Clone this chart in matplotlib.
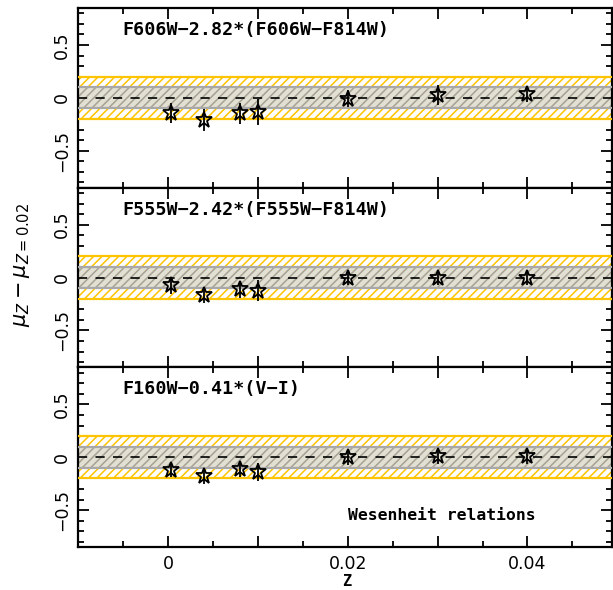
import matplotlib
matplotlib.use("Agg")
import matplotlib.pyplot as plt
from matplotlib.ticker import MultipleLocator, FuncFormatter

# Metallicity grid
Z = [0.0004, 0.004, 0.008, 0.01, 0.02, 0.03, 0.04]

# Distance-modulus offsets relative to Z=0.02, one list per Wesenheit relation
dmu_606 = [-0.14, -0.21, -0.145, -0.135, -0.01, 0.03, 0.04]
err_606 = [0.095, 0.10, 0.10, 0.12, 0.08, 0.095, 0.075]

dmu_555 = [-0.075, -0.165, -0.11, -0.125, 0.0, 0.0, 0.0]
err_555 = [0.076, 0.08, 0.08, 0.10, 0.07, 0.075, 0.07]

dmu_160 = [-0.12, -0.18, -0.115, -0.14, 0.005, 0.012, 0.01]
err_160 = [0.07, 0.07, 0.07, 0.087, 0.076, 0.074, 0.07]

titles = ["F606W\u22122.82*(F606W\u2212F814W)",
          "F555W\u22122.42*(F555W\u2212F814W)",
          "F160W\u22120.41*(V\u2212I)"]
panels = [(dmu_606, err_606), (dmu_555, err_555), (dmu_160, err_160)]

outer_band = 0.2
inner_band = 0.1

plt.rcParams["hatch.linewidth"] = 1.1

W, H = 613, 590
fig = plt.figure(figsize=(W / 100, H / 100), dpi=100)

left, right = 78 / W, 612 / W
top_px, ph = 8, 179.7


def ytick_fmt(v, p):
    if abs(v) < 1e-9:
        return "0"
    return ("%g" % v).replace("-", "\u2212")


def xtick_fmt(v, p):
    if abs(round(v / 0.01)) % 2 != 0:
        return ""
    return "0" if abs(v) < 1e-9 else "%g" % v


axes = []
for i, (title, (vals, errs)) in enumerate(zip(titles, panels)):
    y0 = 1 - (top_px + (i + 1) * ph) / H
    ax = fig.add_axes([left, y0, right - left, ph / H])
    axes.append(ax)

    xmin, xmax = -0.01, 0.0494
    # outer (yellow) hatched band
    ax.fill_between([xmin, xmax], -outer_band, outer_band, facecolor="white",
                    edgecolor="#ffc400", hatch="////", linewidth=0, zorder=1)
    # inner (grey) hatched band
    ax.fill_between([xmin, xmax], -inner_band, inner_band, facecolor="#e2dfd3",
                    edgecolor="#a7a293", hatch="////", linewidth=0, zorder=2)
    for yb in (-outer_band, outer_band):
        ax.axhline(yb, color="#ffc400", lw=1.6, zorder=3)
    for yb in (-inner_band, inner_band):
        ax.axhline(yb, color="#a8a8a8", lw=1.6, zorder=3)
    ax.axhline(0, color="black", lw=1.2, ls=(0, (5.5, 5)), zorder=4)

    ax.errorbar(Z, vals, yerr=errs, fmt="none", ecolor="black", elinewidth=1.3,
                capsize=0, zorder=5)
    ax.plot(Z, vals, ls="none", marker="*", markersize=12, mfc="none",
            mec="black", mew=1.3, zorder=6)

    ax.set_xlim(xmin, xmax)
    ax.set_ylim(-0.85, 0.85)

    ax.text(0.084, 0.878, title, transform=ax.transAxes, ha="left", va="center",
            fontsize=13.2, family="DejaVu Sans Mono", fontweight="bold",
            zorder=7)

    ax.xaxis.set_major_locator(MultipleLocator(0.01))
    ax.xaxis.set_minor_locator(MultipleLocator(0.005))
    ax.yaxis.set_major_locator(MultipleLocator(0.5))
    ax.yaxis.set_minor_locator(MultipleLocator(0.1))
    ax.tick_params(which="both", direction="in", top=True, right=True,
                   width=1.3, labelsize=12.5)
    ax.tick_params(which="major", length=8)
    ax.tick_params(which="minor", length=4)
    ax.tick_params(axis="y", pad=5)
    ax.tick_params(axis="x", pad=6)
    ax.yaxis.set_major_formatter(FuncFormatter(ytick_fmt))
    for sp in ax.spines.values():
        sp.set_linewidth(1.6)
    if i < 2:
        ax.tick_params(labelbottom=False)
    else:
        ax.xaxis.set_major_formatter(FuncFormatter(xtick_fmt))

for ax in axes:
    plt.setp(ax.get_yticklabels(), rotation=90, va="center")

axes[2].text(0.506, 0.178, "Wesenheit relations", transform=axes[2].transAxes,
             ha="left", va="center", fontsize=11.8, family="DejaVu Sans Mono",
             fontweight="bold")

fig.text(22 / W, 1 - 265 / H, r"$\mu_Z - \mu_{Z=0.02}$", rotation=90,
         ha="center", va="center", fontsize=15)
fig.text(347 / W, 1 - 589 / H, "Z", ha="center", va="bottom", fontsize=11,
         family="DejaVu Sans Mono", fontweight="bold")

fig.savefig("out.png", dpi=100)
